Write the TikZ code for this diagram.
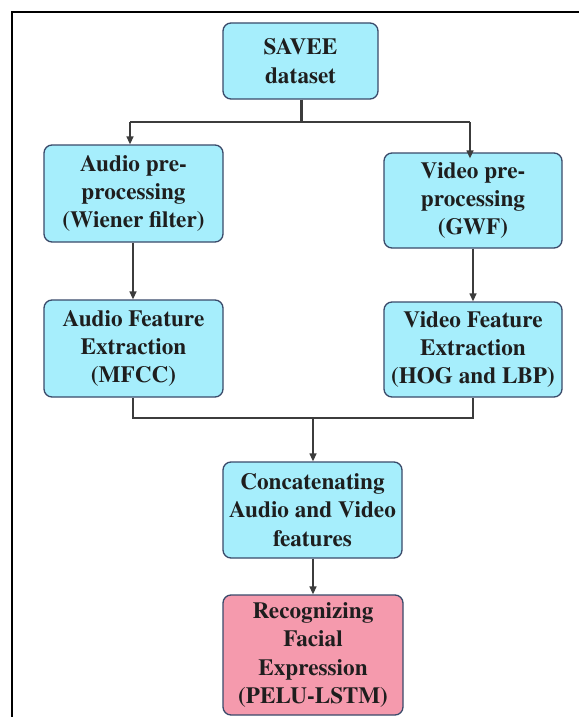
\documentclass[tikz,border=0pt]{standalone}
\usepackage{fontspec}
\setmainfont{texgyretermes}[Extension=.otf, UprightFont=*-regular, BoldFont=*-bold]
\usetikzlibrary{arrows.meta}
\definecolor{boxcyan}{HTML}{A6EEFC}
\definecolor{boxpink}{HTML}{F59AAD}
\definecolor{boxedge}{HTML}{3A4A6A}
\definecolor{linegray}{HTML}{3C3C3C}
\definecolor{txt}{HTML}{1E1E1E}
\tikzset{
  stepbox/.style={draw=boxedge, line width=1.3pt, rounded corners=8pt, fill=boxcyan,
    align=center, inner sep=0pt, text=txt,
    font=\rmfamily\bfseries\fontsize{23.2}{28.3}\selectfont},
  conn/.style={draw=linegray, line width=1.3pt},
  arr/.style={conn, -{Triangle[length=8pt,width=7pt]}},
}
\begin{document}
\begin{tikzpicture}[x=1pt,y=-1pt]
\useasboundingbox (0,0) rectangle (579,717);
\fill[white] (0,0) rectangle (579,717);
% frame (right and bottom outside the picture)
\draw[line width=1.8pt] (12,717) -- (12,12.3) -- (579,12.3);

\node[stepbox, minimum width=155pt, minimum height=76pt] (savee) at (300.5,61) {SAVEE\\dataset};
\node[stepbox, minimum width=179pt, minimum height=97pt] (apre) at (133.5,193.5) {Audio pre-\\processing\\(Wiener filter)};
\node[stepbox, minimum width=178pt, minimum height=95pt] (vpre) at (473,200.5) {Video pre-\\processing\\(GWF)};
\node[stepbox, minimum width=179pt, minimum height=97pt] (afeat) at (133.5,348.5) {Audio Feature\\Extraction\\(MFCC)};
\node[stepbox, minimum width=178pt, minimum height=95pt] (vfeat) at (473,349.5) {Video Feature\\Extraction\\(HOG and LBP)};
\node[stepbox, minimum width=179pt, minimum height=96pt] (concat) at (312.5,510) {Concatenating\\Audio and Video\\features};
\node[stepbox, fill=boxpink, minimum width=180pt, minimum height=120pt] (recog) at (313,655) {Recognizing\\Facial\\Expression\\(PELU-LSTM)};

\coordinate (split) at (301,122);
\coordinate (splitL) at (130,122);
\coordinate (splitR) at (470,122);
\coordinate (joinL) at (133,418);
\coordinate (joinR) at (473,418);
\coordinate (joinM) at (313,418);

\draw[conn, line width=3pt] (savee.south -| split) -- (split);
\draw[conn] (splitL) -- (splitR);
\draw[arr] (splitL) -- (splitL |- apre.north);
\draw[arr] (splitR) -- ([yshift=-6pt]splitR |- vpre.north);

\draw[arr] (apre.south -| joinL) -- (afeat.north -| joinL);
\draw[arr] (vpre.south -| joinR) -- (vfeat.north -| joinR);

\draw[conn] (afeat.south -| joinL) -- (joinL) -- (joinR) -- (vfeat.south -| joinR);
\draw[arr] (joinM) -- (concat.north -| joinM);
\draw[arr] (concat.south -| joinM) -- (recog.north -| joinM);
\end{tikzpicture}
\end{document}
